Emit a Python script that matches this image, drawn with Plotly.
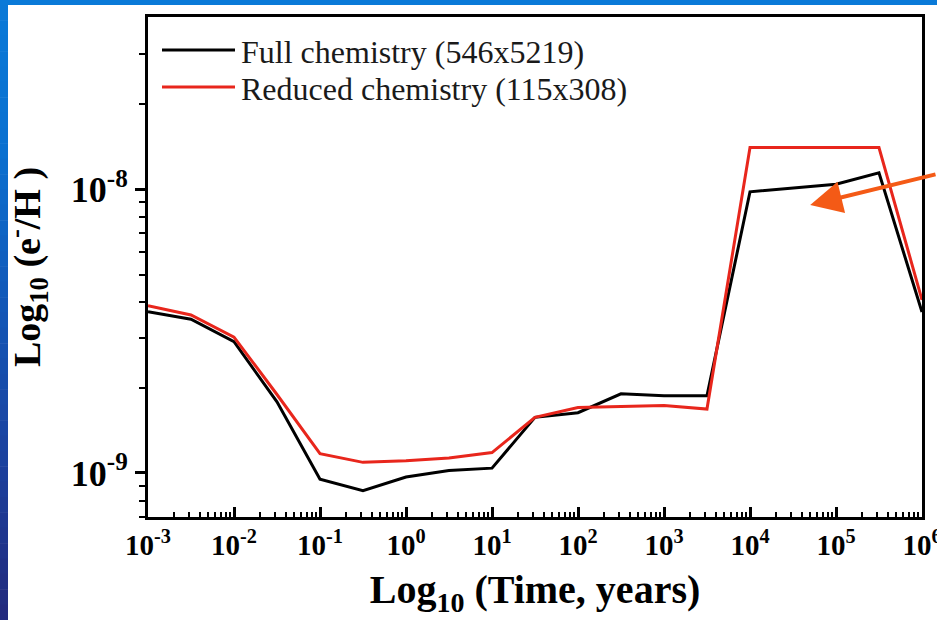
import plotly.graph_objects as go

# Model time grid (years), half-decade steps
time_years = [1e-3, 3.16e-3, 1e-2, 3.16e-2, 1e-1, 3.16e-1, 1e0, 3.16e0, 1e1,
              3.16e1, 1e2, 3.16e2, 1e3, 3.16e3, 1e4, 3.16e4, 1e5, 3.16e5, 1e6]

# Electron fraction e-/H for each chemical network
full_chemistry = [3.70e-9, 3.48e-9, 2.90e-9, 1.78e-9, 9.50e-10, 8.66e-10, 9.68e-10,
                  1.02e-9, 1.04e-9, 1.57e-9, 1.63e-9, 1.90e-9, 1.87e-9, 1.87e-9,
                  9.78e-9, 1.01e-8, 1.04e-8, 1.14e-8, 3.69e-9]
reduced_chemistry = [3.88e-9, 3.60e-9, 3.01e-9, 1.89e-9, 1.17e-9, 1.09e-9, 1.105e-9,
                     1.13e-9, 1.18e-9, 1.57e-9, 1.70e-9, 1.71e-9, 1.73e-9, 1.68e-9,
                     1.40e-8, 1.40e-8, 1.40e-8, 1.40e-8, 4.07e-9]

series_names = ["Full chemistry (546x5219)", "Reduced chemistry (115x308)"]
series_colors = ["#000000", "#e8261c"]

x_tick_vals = [1e-3, 1e-2, 1e-1, 1e0, 1e1, 1e2, 1e3, 1e4, 1e5, 1e6]
x_tick_text = ["10<sup>-3</sup>", "10<sup>-2</sup>", "10<sup>-1</sup>", "10<sup>0</sup>",
               "10<sup>1</sup>", "10<sup>2</sup>", "10<sup>3</sup>", "10<sup>4</sup>",
               "10<sup>5</sup>", "10<sup>6</sup>"]
y_tick_vals = [1e-9, 1e-8]
y_tick_text = ["10<sup>-9</sup>", "10<sup>-8</sup>"]

x_minor = [m * 10.0 ** e for e in range(-3, 6) for m in range(2, 10)]
y_minor = [7e-10, 8e-10, 9e-10] + [m * 1e-9 for m in range(2, 10)] + [2e-8, 3e-8]

SERIF = "Liberation Serif, Times New Roman, serif"

W, H = 937, 620
L, R, T, B = 148, 15, 17, 103
PW, PH = W - L - R, H - T - B


def px_x(px):
    return (px - L) / PW


def px_y(py):
    return (H - B - py) / PH


fig = go.Figure()
for ys, name, color in zip([full_chemistry, reduced_chemistry], series_names, series_colors):
    fig.add_trace(go.Scatter(x=time_years, y=ys, mode="lines", name=name,
                             line=dict(color=color, width=3)))

shapes = []
# slide background: blue strips along the top and left edges
shapes.append(dict(type="rect", xref="paper", yref="paper", layer="below",
                   x0=px_x(0), x1=px_x(W), y0=px_y(5), y1=px_y(0),
                   fillcolor="#0a7ad8", line=dict(width=0)))
stops = [(0, (10, 122, 216)), (150, (10, 112, 208)), (300, (18, 88, 184)),
         (450, (27, 67, 160)), (620, (35, 41, 124))]
n_seg = 40
for i in range(n_seg):
    y0p = 5 + (H - 5) * i / n_seg
    y1p = 5 + (H - 5) * (i + 1) / n_seg
    ym = (y0p + y1p) / 2
    for (a, ca), (b, cb) in zip(stops[:-1], stops[1:]):
        if a <= ym <= b:
            t = (ym - a) / (b - a)
            c = tuple(round(ca[k] + (cb[k] - ca[k]) * t) for k in range(3))
            break
    shapes.append(dict(type="rect", xref="paper", yref="paper", layer="below",
                       x0=px_x(0), x1=px_x(8), y0=px_y(y1p + 0.5), y1=px_y(y0p),
                       fillcolor="rgb(%d,%d,%d)" % c, line=dict(width=0)))

# legend drawn inside the top-left of the frame
annotations = []
for i, (name, color) in enumerate(zip(series_names, series_colors)):
    yy = px_y(50 + 37 * i)
    shapes.append(dict(type="line", xref="paper", yref="paper",
                       x0=px_x(162), x1=px_x(235), y0=yy, y1=yy,
                       line=dict(color=color, width=3)))
    annotations.append(dict(xref="paper", yref="paper", x=px_x(239), y=yy - 0.004,
                            xanchor="left", yanchor="middle", showarrow=False,
                            text=name, font=dict(size=32, color="#1a1a1a",
                                                 family=SERIF)))

# pointer arrow toward the full-chemistry plateau
annotations.append(dict(x=4.70, y=-8.056, xref="x", yref="y", text="",
                        showarrow=True, arrowhead=2, arrowsize=1.6, arrowwidth=4,
                        arrowcolor="#f45a16", axref="pixel", ayref="pixel",
                        ax=160, ay=-31))

fig.update_layout(
    width=W, height=H,
    margin=dict(l=L, r=R, t=T, b=B, autoexpand=False),
    paper_bgcolor="white", plot_bgcolor="white",
    showlegend=False,
    font=dict(family=SERIF, color="black"),
    shapes=shapes, annotations=annotations,
)

fig.update_xaxes(
    type="log", range=[-3, 6], automargin=False,
    tickmode="array", tickvals=x_tick_vals, ticktext=x_tick_text,
    ticks="inside", ticklen=10, tickwidth=2.5, tickcolor="black",
    ticklabeloverflow="allow",
    showline=True, linewidth=3, linecolor="black", mirror=True,
    showgrid=False, zeroline=False,
    tickfont=dict(size=29, weight="bold", family=SERIF),
    minor=dict(tickmode="array", tickvals=x_minor, ticks="inside", ticklen=5,
               tickwidth=2, tickcolor="black", showgrid=False),
    title=dict(text="Log<sub>10</sub> (Time, years)", standoff=16,
               font=dict(size=40, weight="bold", family=SERIF)),
)
fig.update_yaxes(
    type="log", range=[-9.155, -7.394], automargin=False,
    tickmode="array", tickvals=y_tick_vals, ticktext=y_tick_text,
    ticks="outside", ticklen=10, tickwidth=2.5, tickcolor="black",
    showline=True, linewidth=3, linecolor="black", mirror=True,
    showgrid=False, zeroline=False,
    tickfont=dict(size=36, weight="bold", family=SERIF),
    minor=dict(tickmode="array", tickvals=y_minor, ticks="outside", ticklen=6,
               tickwidth=2, tickcolor="black", showgrid=False),
    title=dict(text="Log<sub>10</sub> (e<sup>-</sup>/H )", standoff=22,
               font=dict(size=38, weight="bold", family=SERIF)),
)

fig.write_html("out.html")
